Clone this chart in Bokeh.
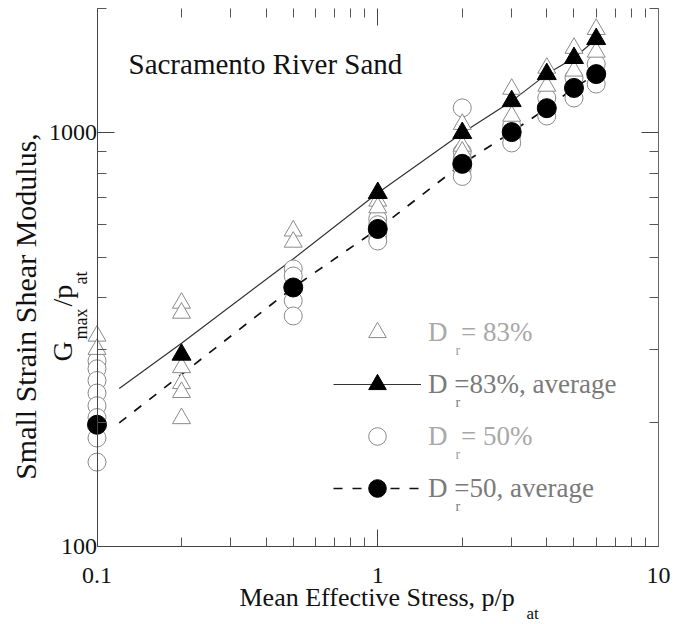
from math import pi, log10
from bokeh.plotting import figure
from bokeh.models import (Range1d, LogAxis, FixedTicker, Label, Legend, LegendItem,
                          CustomJSTickFormatter)
from bokeh.embed import file_html
from bokeh.resources import INLINE

# ---------------- data ----------------
x_ticks = [0.1, 1, 10]
x_minor = [0.2, 0.3, 0.4, 0.5, 0.6, 0.7, 0.8, 0.9, 2, 3, 4, 5, 6, 7, 8, 9]
y_ticks = [100, 1000]
y_minor = [200, 300, 400, 500, 600, 700, 800, 900, 2000]

# Dr = 83 %, individual tests (open triangles)
dr83_x = [0.1, 0.1, 0.2, 0.2, 0.2, 0.2, 0.2, 0.2, 0.5, 0.5, 1, 1,
          2, 2, 2, 3, 3, 4, 4, 5, 5, 6, 6]
dr83_y = [323, 300, 388, 367, 271, 248, 236, 204, 580, 545, 685, 660,
          1050, 930, 900, 1277, 1099, 1436, 1299, 1604, 1413, 1782, 1570]

# Dr = 50 %, individual tests (open circles)
dr50_x = [0.1, 0.1, 0.1, 0.1, 0.1, 0.1, 0.1, 0.1, 0.5, 0.5, 0.5, 0.5,
          1, 1, 1, 1, 2, 2, 2, 2, 2, 3, 3, 3, 4, 4, 5, 5, 6, 6]
dr50_y = [281, 269, 252, 235, 219, 205, 183, 160, 469, 451, 393, 361,
          620, 600, 565, 548, 1150, 900, 865, 820, 785, 1040, 985, 946,
          1215, 1099, 1358, 1215, 1468, 1313]

# averages
avg83_x = [0.2, 1, 2, 3, 4, 5, 6]
avg83_y = [291, 716, 1000, 1194, 1388, 1518, 1687]
avg83_line_x = [0.12, 0.2, 0.5, 1, 2, 3, 4, 5, 6]
avg83_line_y = [241, 310, 496, 716, 1000, 1194, 1388, 1518, 1687]

avg50_x = [0.1, 0.5, 1, 2, 3, 4, 5, 6]
avg50_y = [197, 423, 586, 842, 1005, 1148, 1285, 1388]
avg50_line_x = [0.12, 0.5, 1, 2, 3, 4, 5, 6]
avg50_line_y = [199, 423, 586, 842, 1005, 1148, 1285, 1388]

legend_labels = ["D  = 83%", "D =83%, average", "D  = 50%", "D =50, average"]

# ---------------- layout ----------------
FONT = "Liberation Serif"
X0, X1 = 0.1, 10
Y0, Y1 = 100, 2000
W, H = 683, 624
PL, PR, PT, PB = 96.5, 658.0, 8.0, 546.0   # plot box edges in page pixels


def X(px):
    return 10 ** (log10(X0) + (px - PL) / (PR - PL) * (log10(X1) - log10(X0)))


def Y(py):
    return 10 ** (log10(Y0) + (PB - py) / (PB - PT) * (log10(Y1) - log10(Y0)))


# the frame spans the whole canvas; the axes sit at fixed data locations
p = figure(width=W, height=H, x_axis_type="log", y_axis_type="log",
           x_range=Range1d(X(0), X(W)), y_range=Range1d(Y(H), Y(0)),
           output_backend="svg", toolbar_location=None, min_border=0)
p.outline_line_color = None
p.background_fill_color = "white"
p.border_fill_color = "white"
p.xgrid.visible = False
p.ygrid.visible = False

fmt = CustomJSTickFormatter(code="return tick.toString();")
blank = CustomJSTickFormatter(code="return '';")


def style_axis(ax, ticks, minor, loc, bounds, labels=True):
    ax.ticker = FixedTicker(ticks=ticks, minor_ticks=minor)
    ax.fixed_location = loc
    ax.bounds = bounds
    ax.major_tick_in = 17
    ax.major_tick_out = 0
    ax.minor_tick_in = 9
    ax.minor_tick_out = 0
    ax.major_tick_line_color = "#444"
    ax.minor_tick_line_color = "#555"
    ax.axis_line_color = "#444"
    if labels:
        ax.formatter = fmt
        ax.major_label_text_font = FONT
        ax.major_label_text_font_size = "24px"
        ax.major_label_text_color = "#111"
    else:
        ax.formatter = blank
        ax.major_label_standoff = 0


style_axis(p.xaxis[0], x_ticks, x_minor, Y0, (X0, X1))
p.xaxis[0].major_label_standoff = 21
style_axis(p.yaxis[0], y_ticks, y_minor, X0, (Y0, Y1))
p.yaxis[0].major_label_standoff = 0

top = LogAxis()
style_axis(top, x_ticks, x_minor, Y1, (X0, X1), labels=False)
top.axis_line_color = None
p.add_layout(top, "above")
right = LogAxis()
style_axis(right, y_ticks, y_minor, X1, (Y0, Y1), labels=False)
right.axis_line_color = "#666"
p.add_layout(right, "right")

# ---------------- glyphs ----------------
l83 = p.line(avg83_line_x, avg83_line_y, line_color="#333", line_width=1.2)
l50 = p.line(avg50_line_x, avg50_line_y, line_color="#111", line_width=1.7,
             line_dash="9 10")
o50 = p.scatter(dr50_x, dr50_y, marker="circle", size=18, fill_color="white",
                line_color="#8a8a8a", line_width=1)
o83 = p.scatter(dr83_x, dr83_y, marker="triangle", size=18, fill_color="white",
                line_color="#8a8a8a", line_width=1)
f50 = p.scatter(avg50_x, avg50_y, marker="circle", size=19, fill_color="black",
                line_color="black")
f83 = p.scatter(avg83_x, avg83_y, marker="triangle", size=19, fill_color="black",
                line_color="black")

# legend: rows at 332/384/436/488 px; two legends so rows 1,3 can be lighter
ROW = [332, 384, 436, 488]
GL, GW, GH = 333, 88, 44
common = dict(orientation="vertical", glyph_width=GW, glyph_height=GH,
              label_height=GH, spacing=2 * (ROW[1] - ROW[0]) - GH,
              label_standoff=7, padding=0, margin=0, border_line_color=None,
              background_fill_alpha=0, label_text_font=FONT,
              label_text_font_size="27px")
legA = Legend(items=[LegendItem(label=legend_labels[0], renderers=[o83]),
                     LegendItem(label=legend_labels[2], renderers=[o50])],
              location=(GL, H - (ROW[2] + GH / 2)), label_text_color="#a8a8a8",
              **common)
legB = Legend(items=[LegendItem(label=legend_labels[1], renderers=[l83, f83]),
                     LegendItem(label=legend_labels[3], renderers=[l50, f50])],
              location=(GL, H - (ROW[3] + GH / 2)), label_text_color="#7a7a7a",
              **common)
p.add_layout(legA)
p.add_layout(legB)


# ---------------- texts ----------------
def txt(px, py, text, size, angle=0, align="left", color="#111", baseline="middle"):
    p.add_layout(Label(x=X(px), y=Y(py), text=text, text_font=FONT,
                       text_font_size=size, angle=angle, text_align=align,
                       text_baseline=baseline, text_color=color))


txt(128, 63, "Sacramento River Sand", "29px")

# x axis title
txt(239, 597, "Mean Effective Stress, p/p", "26px")
txt(526, 613, "at", "17px")

# y axis title (rotated)
txt(25, 306, "Small Strain Shear Modulus,", "30px", angle=pi / 2, align="center")
txt(62, 361, "G", "28px", angle=pi / 2)
txt(80, 339, "max", "18px", angle=pi / 2)
txt(62, 306, "/p", "28px", angle=pi / 2)
txt(80, 284, "at", "18px", angle=pi / 2)

# legend subscripts
for i, ry in enumerate(ROW):
    txt(455, ry + 18, "r", "14px", color="#a0a0a0" if i % 2 == 0 else "#7a7a7a")

open("out.html", "w").write(file_html(p, INLINE))
